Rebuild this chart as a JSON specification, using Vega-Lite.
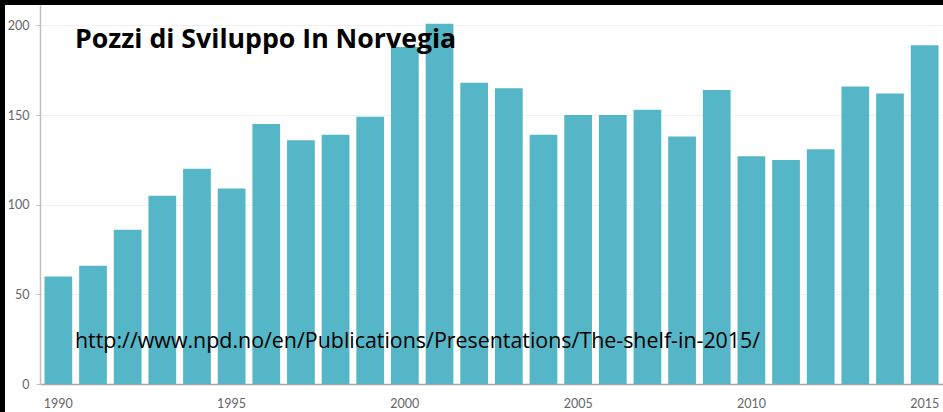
{
  "$schema": "https://vega.github.io/schema/vega-lite/v6.json",
  "width": 938,
  "height": 407,
  "autosize": {"type": "none"},
  "padding": {"left": 5, "top": 5, "right": 0, "bottom": 0},
  "background": "black",
  "config": {
    "view": {"fill": "white", "stroke": null},
    "axis": {"labelFont": "Lato", "labelColor": "#666666", "labelFontSize": 12.5}
  },
  "title": {
    "text": "Pozzi di Sviluppo In Norvegia",
    "subtitle": "http://www.npd.no/en/Publications/Presentations/The-shelf-in-2015/",
    "anchor": "start",
    "frame": "group",
    "orient": "top",
    "dx": 70,
    "offset": -347,
    "font": "Open Sans",
    "fontSize": 26.7,
    "fontWeight": "bold",
    "color": "black",
    "subtitleFont": "Open Sans",
    "subtitleFontSize": 21.4,
    "subtitleColor": "black",
    "subtitlePadding": 277
  },
  "data": {
    "values": [
      {"year": 1990, "wells": 60},
      {"year": 1991, "wells": 66},
      {"year": 1992, "wells": 86},
      {"year": 1993, "wells": 105},
      {"year": 1994, "wells": 120},
      {"year": 1995, "wells": 109},
      {"year": 1996, "wells": 145},
      {"year": 1997, "wells": 136},
      {"year": 1998, "wells": 139},
      {"year": 1999, "wells": 149},
      {"year": 2000, "wells": 188},
      {"year": 2001, "wells": 201},
      {"year": 2002, "wells": 168},
      {"year": 2003, "wells": 165},
      {"year": 2004, "wells": 139},
      {"year": 2005, "wells": 150},
      {"year": 2006, "wells": 150},
      {"year": 2007, "wells": 153},
      {"year": 2008, "wells": 138},
      {"year": 2009, "wells": 164},
      {"year": 2010, "wells": 127},
      {"year": 2011, "wells": 125},
      {"year": 2012, "wells": 131},
      {"year": 2013, "wells": 166},
      {"year": 2014, "wells": 162},
      {"year": 2015, "wells": 189}
    ]
  },
  "mark": {"type": "bar", "color": "#54b6c6"},
  "encoding": {
    "x": {
      "field": "year",
      "type": "ordinal",
      "scale": {"range": [35, 938], "paddingInner": 0.2, "paddingOuter": 0.13},
      "axis": {
        "title": null,
        "values": [1990, 1995, 2000, 2005, 2010, 2015],
        "labelAngle": 0,
        "ticks": false,
        "labelPadding": 13,
        "offset": -28,
        "domainColor": "#a6a6a6",
        "domainWidth": 1.5,
        "grid": false
      }
    },
    "y": {
      "field": "wells",
      "type": "quantitative",
      "scale": {"domain": [0, 211.4], "range": [379, 0], "nice": false, "zero": true},
      "axis": {
        "title": null,
        "values": [0, 50, 100, 150, 200],
        "offset": -35,
        "tickSize": 4,
        "tickColor": "#bfbfbf",
        "labelPadding": 7,
        "domainColor": "#bfbfbf",
        "domainWidth": 1.5,
        "grid": true,
        "gridColor": "#f0f0f0",
        "gridWidth": 1.2
      }
    }
  }
}
